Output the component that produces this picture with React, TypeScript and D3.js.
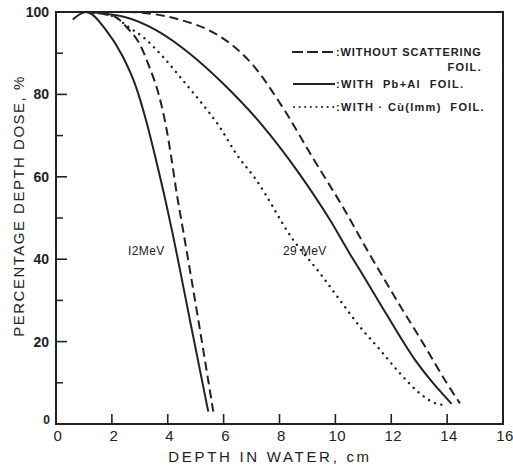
import React from 'react';
import * as d3 from 'd3';

// depth (cm) and percentage depth dose
const depth12Solid = [0.6, 1.07, 1.79, 2.39, 2.86, 3.22, 3.58, 3.94, 4.15, 4.8, 5.45];
const dose12Solid = [98.2, 100, 95.6, 89.2, 81.9, 73.8, 64.1, 53.6, 47, 25, 3];

const depth12Dash = [1.07, 2.09, 2.57, 2.98, 3.34, 3.7, 3.94, 4.12, 4.32, 4.55, 5.1, 5.63];
const dose12Dash = [100, 98.9, 96, 92.4, 86.7, 79.4, 72.2, 65, 56, 47, 25, 3];

const depth29Dash = [1.07, 2.5, 3.5, 4.5, 5.5, 6.3, 7.0, 8.1, 9.2, 10.3, 11.2, 12.2, 13.15, 13.98, 14.46];
const dose29Dash = [100, 100, 99.5, 98, 95.5, 92, 87.5, 77, 64.5, 52.3, 41.5, 30, 19.5, 10, 5];

const depth29Solid = [1.07, 2.39, 3.58, 4.77, 5.97, 7.42, 8.61, 9.81, 10.5, 11.0, 11.84, 12.91, 13.5, 14.16];
const dose29Solid = [100, 98.9, 95.6, 90, 82.7, 72.2, 61.7, 49.5, 41.5, 36, 26.5, 15, 9.9, 4.9];

const depth29Dot = [1.07, 2.05, 2.5, 3.1, 3.82, 4.53, 5.13, 5.85, 6.44, 7.16, 8.49, 9.45, 10.16, 10.88, 11.6, 12.31, 13.03, 13.63, 13.92];
const dose29Dot = [100, 99, 96.8, 94, 89.2, 83.5, 78.6, 72.2, 65.7, 59.3, 44.7, 36.6, 30.1, 23.6, 18, 12.3, 7.4, 4.9, 4.6];

const xTicks = [0, 2, 4, 6, 8, 10, 12, 14, 16];
const xTickLabels = ['0', '2', '4', '6', '8', '10', '12', '14', '16'];
const yMajor = [0, 20, 40, 60, 80, 100];
const yMinor = [10, 30, 50, 70, 90];

const legendLabels = [':WITHOUT SCATTERING', ':WITH  Pb+Al  FOIL.', ':WITH · Cù(Imm)  FOIL.'];

const ink = '#222';

function App() {
  const W = 513, H = 467;
  const x = d3.scaleLinear().domain([0, 16]).range([56, 503]);
  const y = d3.scaleLinear().domain([0, 100]).range([424, 12]);

  const line = d3.line<[number, number]>()
    .x(d => x(d[0]))
    .y(d => y(d[1]))
    .curve(d3.curveMonotoneX);

  const zip = (a: number[], b: number[]) => a.map((v, i) => [v, b[i]] as [number, number]);

  const curves = [
    { d: zip(depth12Solid, dose12Solid), dash: undefined, cap: 'butt' },
    { d: zip(depth12Dash, dose12Dash), dash: '9,5', cap: 'butt' },
    { d: zip(depth29Dash, dose29Dash), dash: '9,5', cap: 'butt' },
    { d: zip(depth29Solid, dose29Solid), dash: undefined, cap: 'butt' },
    { d: zip(depth29Dot, dose29Dot), dash: '0.1,6.5', cap: 'round' },
  ];

  const font = "'Liberation Sans', Arial, sans-serif";

  return (
    <svg width={W} height={H} style={{ position: 'absolute', left: 0, top: 0, background: '#fff' }}>
      {/* frame */}
      <rect x={x(0)} y={y(100)} width={x(16) - x(0)} height={y(0) - y(100)}
        fill="none" stroke={ink} strokeWidth={2} />

      {/* x ticks */}
      {xTicks.map((t, i) => (
        <g key={'xt' + t}>
          {t > 0 && t < 16 && <line x1={x(t)} x2={x(t)} y1={y(0)} y2={y(0) - 10} stroke={ink} strokeWidth={1.6} />}
          <text x={x(t) + 2} y={y(0) + 17} textAnchor="middle" fontFamily={font} fontSize={15}
            fill={ink} letterSpacing={0.5}>{xTickLabels[i]}</text>
        </g>
      ))}

      {/* y ticks */}
      {yMajor.map(t => (
        <g key={'ym' + t}>
          {t > 0 && t < 100 && <line x1={x(0)} x2={x(0) + 11} y1={y(t)} y2={y(t)} stroke={ink} strokeWidth={1.6} />}
          <text x={t === 0 ? 50 : 49} y={y(t) + (t === 0 ? 0 : 5)} textAnchor="end" fontFamily={font}
            fontSize={t === 0 ? 12 : 14} fontWeight="bold" fill={ink}>{t}</text>
        </g>
      ))}
      {yMinor.map(t => (
        <line key={'yn' + t} x1={x(0)} x2={x(0) + 7} y1={y(t)} y2={y(t)} stroke={ink} strokeWidth={1.5} />
      ))}

      {/* curves */}
      {curves.map((c, i) => (
        <path key={'c' + i} d={line(c.d) || ''} fill="none" stroke={ink}
          strokeWidth={c.cap === 'round' ? 2.4 : 2} strokeDasharray={c.dash}
          strokeLinecap={c.cap as any} />
      ))}

      {/* curve labels */}
      <text x={128} y={255} fontFamily={font} fontSize={12} fill={ink} letterSpacing={0.4}>I2MeV</text>
      <text x={283} y={255} fontFamily={font} fontSize={12} fill={ink} letterSpacing={0.4}>29 MeV</text>

      {/* legend */}
      <line x1={292} x2={335} y1={52} y2={52} stroke={ink} strokeWidth={2} strokeDasharray="11,4" />
      <line x1={293} x2={335} y1={84} y2={84} stroke={ink} strokeWidth={2} />
      <line x1={294} x2={335} y1={107} y2={107} stroke={ink} strokeWidth={2} strokeDasharray="0.1,5.5" strokeLinecap="round" />
      {legendLabels.map((s, i) => (
        <text key={'lg' + i} x={336} y={[56, 88, 111][i]} fontFamily={font} fontSize={11}
          fontWeight="bold" fill={ink} letterSpacing={i === 0 ? 0.9 : 1.3} style={{ whiteSpace: 'pre' }}>{s}</text>
      ))}
      <text x={482} y={71} textAnchor="end" fontFamily={font} fontSize={11} fontWeight="bold"
        fill={ink} letterSpacing={1.3}>FOIL.</text>

      {/* axis titles */}
      <text x={270} y={462} textAnchor="middle" fontFamily={font} fontSize={15} fill={ink}
        letterSpacing={2.7}>DEPTH IN WATER, cm</text>
      <text transform={`translate(24,206) rotate(-90)`} textAnchor="middle" fontFamily={font}
        fontSize={15} fill={ink} letterSpacing={1.5}>PERCENTAGE DEPTH DOSE, %</text>
    </svg>
  );
}

export default App;
